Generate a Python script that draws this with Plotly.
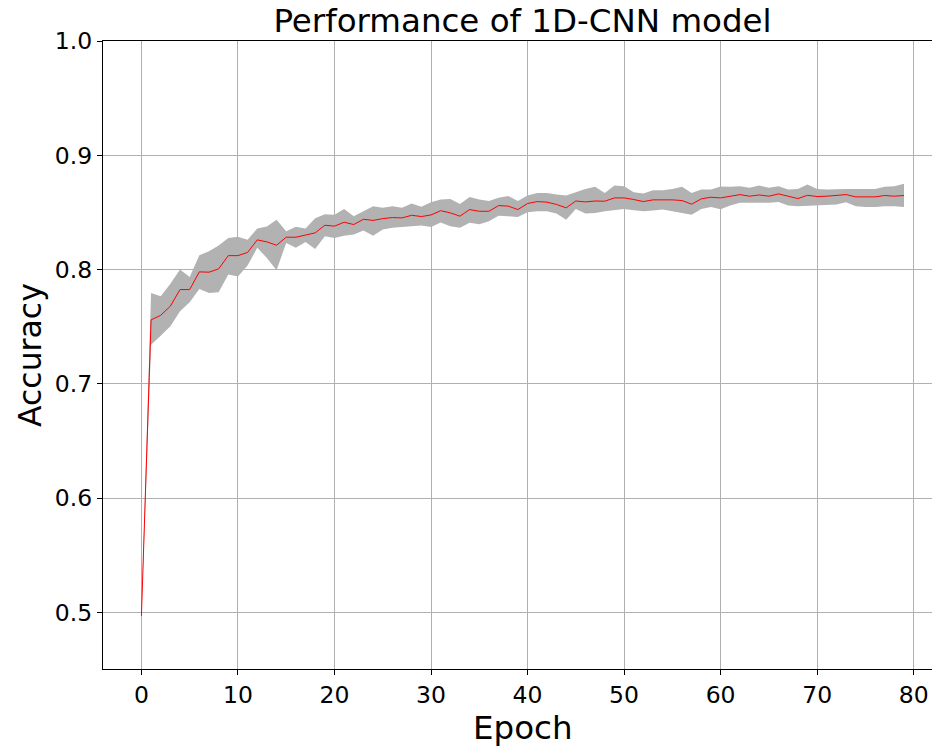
import plotly.graph_objects as go

epochs = list(range(80))

mean_acc = [
    0.497, 0.756, 0.760, 0.768, 0.7825, 0.7825, 0.798, 0.7977, 0.8006, 0.8122,
    0.8122, 0.815, 0.826, 0.8242, 0.8213, 0.8283, 0.8283, 0.830, 0.8321, 0.8388,
    0.8380, 0.8414, 0.8394, 0.8440, 0.8430, 0.8446, 0.8455, 0.8452, 0.8475, 0.8464,
    0.8478, 0.8515, 0.8496, 0.8467, 0.8525, 0.8510, 0.8510, 0.8560, 0.8555, 0.8525,
    0.8578, 0.8595, 0.8590, 0.8570, 0.8540, 0.8600, 0.8592, 0.8600, 0.8598, 0.8627,
    0.8627, 0.8613, 0.8595, 0.8610, 0.8613, 0.8610, 0.8604, 0.8572, 0.8619, 0.8633,
    0.8627, 0.8642, 0.8656, 0.8642, 0.8653, 0.8642, 0.8662, 0.8642, 0.8621, 0.8650,
    0.8639, 0.8642, 0.8648, 0.8656, 0.8636, 0.8633, 0.8636, 0.8648, 0.8642, 0.8648,
]

upper_acc = [
    0.499, 0.7796, 0.7766, 0.7877, 0.800, 0.7936, 0.8125, 0.816, 0.821, 0.8277,
    0.8288, 0.8262, 0.836, 0.8377, 0.8435, 0.8335, 0.8374, 0.836, 0.8449, 0.8484,
    0.8480, 0.8531, 0.8467, 0.8512, 0.8554, 0.854, 0.8554, 0.854, 0.8578, 0.855,
    0.8589, 0.8613, 0.8617, 0.8573, 0.8636, 0.8613, 0.8599, 0.8628, 0.8643, 0.8599,
    0.8648, 0.8671, 0.8671, 0.8657, 0.8648, 0.8677, 0.8706, 0.8724, 0.8671, 0.8735,
    0.8730, 0.8677, 0.8665, 0.8694, 0.8694, 0.8706, 0.8724, 0.8671, 0.8700, 0.8700,
    0.8727, 0.8724, 0.8730, 0.8716, 0.8735, 0.8716, 0.8730, 0.8700, 0.8706, 0.8744,
    0.8706, 0.8700, 0.8706, 0.8706, 0.8706, 0.8706, 0.8706, 0.8724, 0.8730, 0.8750,
]

lower_acc = [
    0.495, 0.7343, 0.7422, 0.7504, 0.7635, 0.7714, 0.7831, 0.7796, 0.7802, 0.7956,
    0.794, 0.8035, 0.819, 0.8102, 0.7994, 0.8233, 0.819, 0.8242, 0.8181, 0.8291,
    0.8277, 0.8295, 0.8306, 0.8341, 0.8297, 0.835, 0.8365, 0.8373, 0.838, 0.8385,
    0.8373, 0.8412, 0.838, 0.8365, 0.841, 0.8396, 0.8423, 0.8472, 0.8467, 0.846,
    0.8501, 0.851, 0.851, 0.849, 0.8437, 0.853, 0.849, 0.8496, 0.851, 0.852,
    0.853, 0.852, 0.851, 0.8516, 0.8525, 0.851, 0.8496, 0.848, 0.853, 0.8548,
    0.8528, 0.856, 0.8584, 0.8584, 0.858, 0.8584, 0.8592, 0.856, 0.8555, 0.856,
    0.856, 0.8569, 0.8569, 0.859, 0.8555, 0.8548, 0.8548, 0.8555, 0.8555, 0.8548,
]

x_ticks = [0, 10, 20, 30, 40, 50, 60, 70, 80]
y_ticks = [0.5, 0.6, 0.7, 0.8, 0.9, 1.0]
y_tick_text = ["0.5", "0.6", "0.7", "0.8", "0.9", "1.0"]

W, H = 932, 749
L, R, T, B = 103, 0, 41, 80
PW, PH = W - L - R, H - T - B
font_family = "DejaVu Sans"
center_x = 522.5  # centre of the (full, partly cropped) axes in pixels

fig = go.Figure()
fig.add_trace(go.Scatter(x=epochs, y=upper_acc, mode="lines",
                         line=dict(width=0, color="rgb(178,178,178)"),
                         hoverinfo="skip", showlegend=False))
fig.add_trace(go.Scatter(x=epochs, y=lower_acc, mode="lines",
                         line=dict(width=0, color="rgb(178,178,178)"),
                         fill="tonexty", fillcolor="rgb(178,178,178)",
                         hoverinfo="skip", showlegend=False))
fig.add_trace(go.Scatter(x=epochs, y=mean_acc, mode="lines",
                         line=dict(width=1, color="red"), showlegend=False))

fig.update_layout(
    width=W, height=H,
    margin=dict(l=L, r=R, t=T, b=B, autoexpand=False),
    paper_bgcolor="white", plot_bgcolor="white",
    font=dict(family=font_family, color="black"),
    title=dict(text="Performance of 1D-CNN model",
               font=dict(size=32.5, family=font_family, color="black"),
               x=center_x / W, xanchor="center", xref="container",
               y=1 - 21 / H, yanchor="middle", yref="container"),
    annotations=[
        dict(text="Epoch", x=(center_x - L) / PW, xref="paper", xanchor="center",
             y=-(728 - (T + PH)) / PH, yref="paper", yanchor="middle",
             showarrow=False, font=dict(size=32.5, family=font_family, color="black")),
        dict(text="Accuracy", x=-(L - 30) / PW, xref="paper", xanchor="center",
             y=0.5, yref="paper", yanchor="middle", textangle=-90,
             showarrow=False, font=dict(size=31.5, family=font_family, color="black")),
    ],
)

fig.update_xaxes(
    range=[-3.98, 81.9], tickvals=x_ticks, ticks="outside", ticklen=5, tickwidth=1.2,
    tickcolor="black", showline=True, linecolor="black", linewidth=1.2, mirror=True,
    showgrid=True, gridcolor="#b0b0b0", gridwidth=1.3, zeroline=False,
    tickfont=dict(size=23.5, family=font_family, color="black"),
)
fig.update_yaxes(
    range=[0.4505, 1.0], tickvals=y_ticks, ticktext=y_tick_text, ticks="outside",
    ticklen=5, tickwidth=1.2, tickcolor="black", showline=True, linecolor="black",
    linewidth=1.2, mirror=False, showgrid=True, gridcolor="#b0b0b0", gridwidth=1.3,
    zeroline=False, tickfont=dict(size=23.5, family=font_family, color="black"),
)

fig.write_html("out.html")
